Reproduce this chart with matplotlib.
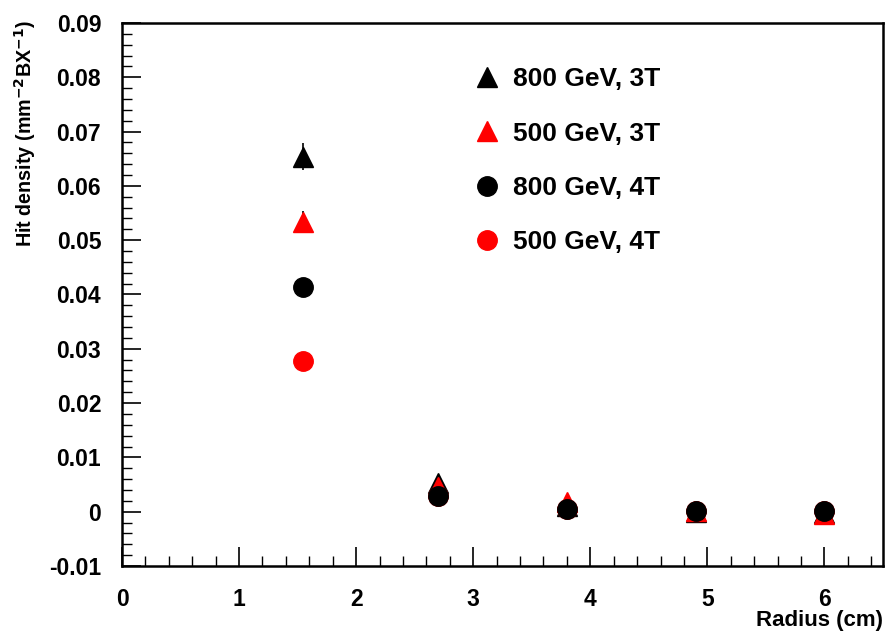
import matplotlib
matplotlib.use("Agg")
import matplotlib.pyplot as plt
from matplotlib.ticker import MultipleLocator

plt.rcParams['font.family'] = ['Liberation Sans', 'DejaVu Sans']
plt.rcParams['font.weight'] = 'bold'

radius = [1.55, 2.7, 3.8, 4.9, 6.0]

d800_3T = [0.0654, 0.0053, 0.0010, 0.0000, -0.0003]
e800_3T = [0.0025, 0.0006, 0.0003, 0.0002, 0.0002]
d500_3T = [0.0534, 0.0045, 0.0018, 0.0001, -0.0005]
e500_3T = [0.0020, 0.0005, 0.0003, 0.0002, 0.0002]
d800_4T = [0.0414, 0.0028, 0.0005, 0.0002, 0.0001]
e800_4T = [0.0010, 0.0003, 0.0002, 0.0001, 0.0001]
d500_4T = [0.0278, 0.0028, 0.0005, 0.0002, 0.0001]
e500_4T = [0.0008, 0.0003, 0.0002, 0.0001, 0.0001]

fig = plt.figure(figsize=(8.86, 6.38), dpi=100)
ax = fig.add_axes([0.1377, 0.1129, 0.8589, 0.8511])

ax.errorbar(radius, d800_3T, yerr=e800_3T, fmt='^', color='black', ms=14, elinewidth=1.2, capsize=0, label='800 GeV, 3T')
ax.errorbar(radius, d500_3T, yerr=e500_3T, fmt='^', color='red', ms=14, elinewidth=1.2, ecolor='black', capsize=0, label='500 GeV, 3T')
ax.errorbar(radius, d500_4T, yerr=e500_4T, fmt='o', color='red', ms=14, elinewidth=1.2, capsize=0, label='500 GeV, 4T', zorder=3)
ax.errorbar(radius, d800_4T, yerr=e800_4T, fmt='o', color='black', ms=14, elinewidth=1.2, capsize=0, label='800 GeV, 4T', zorder=4)

ax.set_xlim(0, 6.5)
ax.set_ylim(-0.01, 0.09)
ax.xaxis.set_major_locator(MultipleLocator(1))
ax.xaxis.set_minor_locator(MultipleLocator(0.2))
ax.yaxis.set_major_locator(MultipleLocator(0.01))
ax.yaxis.set_minor_locator(MultipleLocator(0.002))
ax.yaxis.set_major_formatter(plt.FuncFormatter(lambda v, p: '0' if abs(v) < 1e-9 else ('%.2f' % v)))

ax.tick_params(which='both', direction='in', top=False, right=False, labelsize=16.5)
ax.tick_params(which='major', length=14, width=1.2)
ax.tick_params(which='minor', length=7, width=1)
ax.tick_params(axis='x', pad=16)
ax.tick_params(axis='y', pad=15)
for s in ax.spines.values():
    s.set_linewidth(1.8)

ax.set_xlabel('Radius (cm)', loc='right', fontsize=16, fontweight='bold')
ax.set_ylabel('Hit density (mm$^{\\mathbf{-2}}$BX$^{\\mathbf{-1}}$)', loc='top', fontsize=14.2, fontweight='bold')
ax.xaxis.set_label_coords(1.0, -0.082)
ax.yaxis.set_label_coords(-0.11, 1.005)

h, l = ax.get_legend_handles_labels()
order = [0, 1, 3, 2]
leg = ax.legend([h[i][0] for i in order], [l[i] for i in order], loc='upper left',
                bbox_to_anchor=(0.427, 0.962), frameon=False, fontsize=19,
                labelspacing=1.15, handlelength=1.2, handletextpad=0.4, markerscale=1.0)
for t in leg.get_texts():
    t.set_fontweight('bold')

fig.savefig('out.png', dpi=100)
